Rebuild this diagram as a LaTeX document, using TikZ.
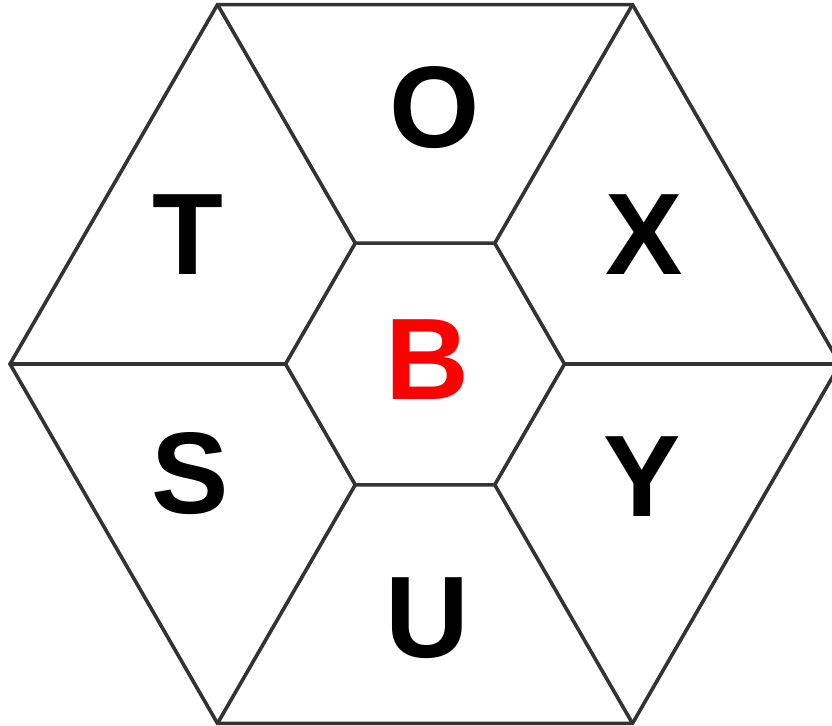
\documentclass[tikz,border=0pt]{standalone}
\usepackage{fontspec}
\setmainfont{Liberation Sans}
\definecolor{linegray}{HTML}{333333}
\begin{document}
\begin{tikzpicture}[x=0.5pt,y=-0.5pt,line join=miter,
	edge/.style={draw=linegray,line width=1.8pt},
	letter/.style={font=\fontsize{58}{60}\selectfont\bfseries,inner sep=0pt}]
	\useasboundingbox (0,0) rectangle (832,726);
	\coordinate (M) at (425,364);
	\foreach \i in {0,...,5}{
		\coordinate (P\i) at ([shift={(\i*60:415)}]M);
		\coordinate (Q\i) at ([shift={(\i*60:139.5)}]M);
	}
	\draw[edge] (P0) -- (P1) -- (P2) -- (P3) -- (P4) -- (P5) -- cycle;
	\draw[edge] (Q0) -- (Q1) -- (Q2) -- (Q3) -- (Q4) -- (Q5) -- cycle;
	\foreach \i in {0,...,5}
		\draw[edge] (Q\i) -- (P\i);
	\node[letter] (o) at (435,108) {O};
	\node[letter] (x) at (644,235) {X};
	\node[letter] (y) at (642,477) {Y};
	\node[letter] (u) at (427,618) {U};
	\node[letter] (s) at (190,474) {S};
	\node[letter] (t) at (188,235) {T};
	\node[letter,text=red] (b) at (427,360) {B};
\end{tikzpicture}
\end{document}
